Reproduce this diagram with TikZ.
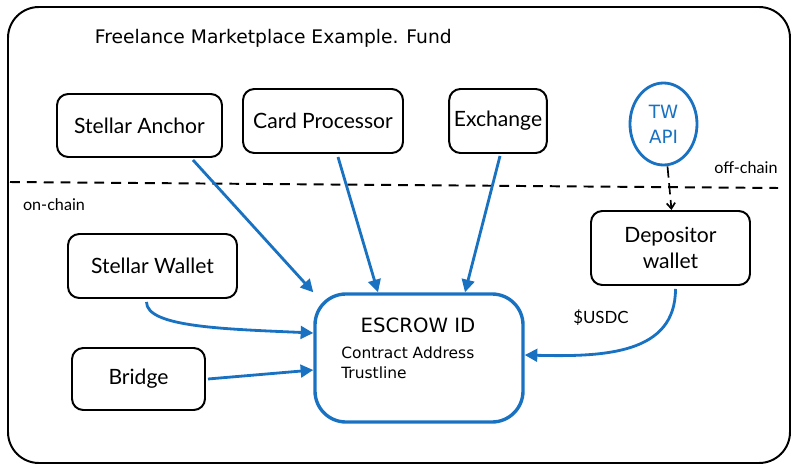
\documentclass[tikz,border=0pt]{standalone}
\usepackage{fontspec}
\setmainfont{Lato}
\newfontfamily\handfont{DejaVu Sans}
\usetikzlibrary{arrows.meta,shapes.geometric}
\definecolor{exblue}{HTML}{1971C2}
\tikzset{
    box/.style={draw=black, line width=1.4pt, rounded corners=8pt, align=center, font=\fontsize{15}{18}\selectfont},
    flow/.style={draw=exblue, line width=2pt, -{Triangle[length=9pt,width=9pt]}},
}
\begin{document}
\begin{tikzpicture}[x=0.025cm, y=-0.025cm]
            \useasboundingbox (0,0) rectangle (804,473);
            % frame
            \draw [line width=1.4pt, rounded corners=22pt] (8,7) rectangle (790,463);
            \node [anchor=west, font=\handfont\fontsize{13.3}{16}\selectfont] (title) at (90,38) {Freelance Marketplace Example. Fund};

            % off-chain parties
            \node [box, minimum width=165*0.025cm, minimum height=63*0.025cm] (anchor) at (139.5,125.5) {Stellar Anchor};
            \node [box, minimum width=160*0.025cm, minimum height=64*0.025cm] (card) at (323,121) {Card Processor};
            \node [box, minimum width=96*0.025cm, minimum height=64*0.025cm] (exchange) at (498,121) {Exchange};
            \node [ellipse, draw=exblue, line width=2pt, minimum width=67*0.025cm, minimum height=82*0.025cm, inner sep=0pt, align=center, text=exblue, font=\handfont\fontsize{13}{18}\selectfont] (tw) at (663.5,124) {TW\\API};

            % chain boundary
            \coordinate (lineL) at (10,182);
            \coordinate (lineR) at (778,188);
            \draw [line width=1.4pt, dash pattern=on 7pt off 5pt] (lineL) -- (lineR);
            \node [font=\fontsize{11.5}{14}\selectfont] (off) at (746,168) {off-chain};
            \node [font=\fontsize{11.5}{14}\selectfont] (on) at (54,205) {on-chain};

            % on-chain parties
            \node [box, minimum width=159*0.025cm, minimum height=74*0.025cm] (depositor) at (670.5,248) {Depositor\\wallet};
            \node [box, minimum width=169*0.025cm, minimum height=64*0.025cm] (wallet) at (152.5,266) {Stellar Wallet};
            \node [box, minimum width=133*0.025cm, minimum height=62*0.025cm] (bridge) at (138.5,379) {Bridge};

            \node [draw=exblue, line width=2.4pt, rounded corners=22pt, minimum width=208*0.025cm, minimum height=128*0.025cm] (escrow) at (419,358) {};
            \node [font=\handfont\fontsize{14}{16}\selectfont] (escrowid) at (418,325) {ESCROW ID};
            \node [anchor=north west, align=left, inner sep=0pt, font=\handfont\fontsize{11}{14.5}\selectfont] (fields) at (341,346) {Contract Address\\Trustline};
            \node [font=\fontsize{12}{14}\selectfont] (usdc) at (601,318) {\$USDC};

            % funding flows
            \draw [flow] (anchor.south east) ++(-30,2) -- (escrow.north west);
            \draw [flow] (card.south) ++(15,3) -- ([xshift=-41*0.025cm]escrow.north);
            \draw [flow] (exchange.south) ++(2,2) -- ([xshift=46*0.025cm]escrow.north);
            \draw [flow] (wallet.south) ++(-6,3) .. controls +(0,25) and +(-90,-4) .. ([yshift=25*0.025cm]escrow.west);
            \draw [flow] (bridge.east) ++(2,0) -- ([yshift=-12*0.025cm]escrow.west);
            \draw [flow] (depositor.south) ++(5,3) .. controls +(0,65) and +(80,2) .. ([yshift=3*0.025cm]escrow.east);
            \draw [line width=1.2pt, dash pattern=on 8pt off 4pt, -{Straight Barb[length=4pt,width=6pt]}] ([xshift=4*0.025cm]tw.south) -- ([xshift=1*0.025cm]depositor.north);
        \end{tikzpicture}
\end{document}
